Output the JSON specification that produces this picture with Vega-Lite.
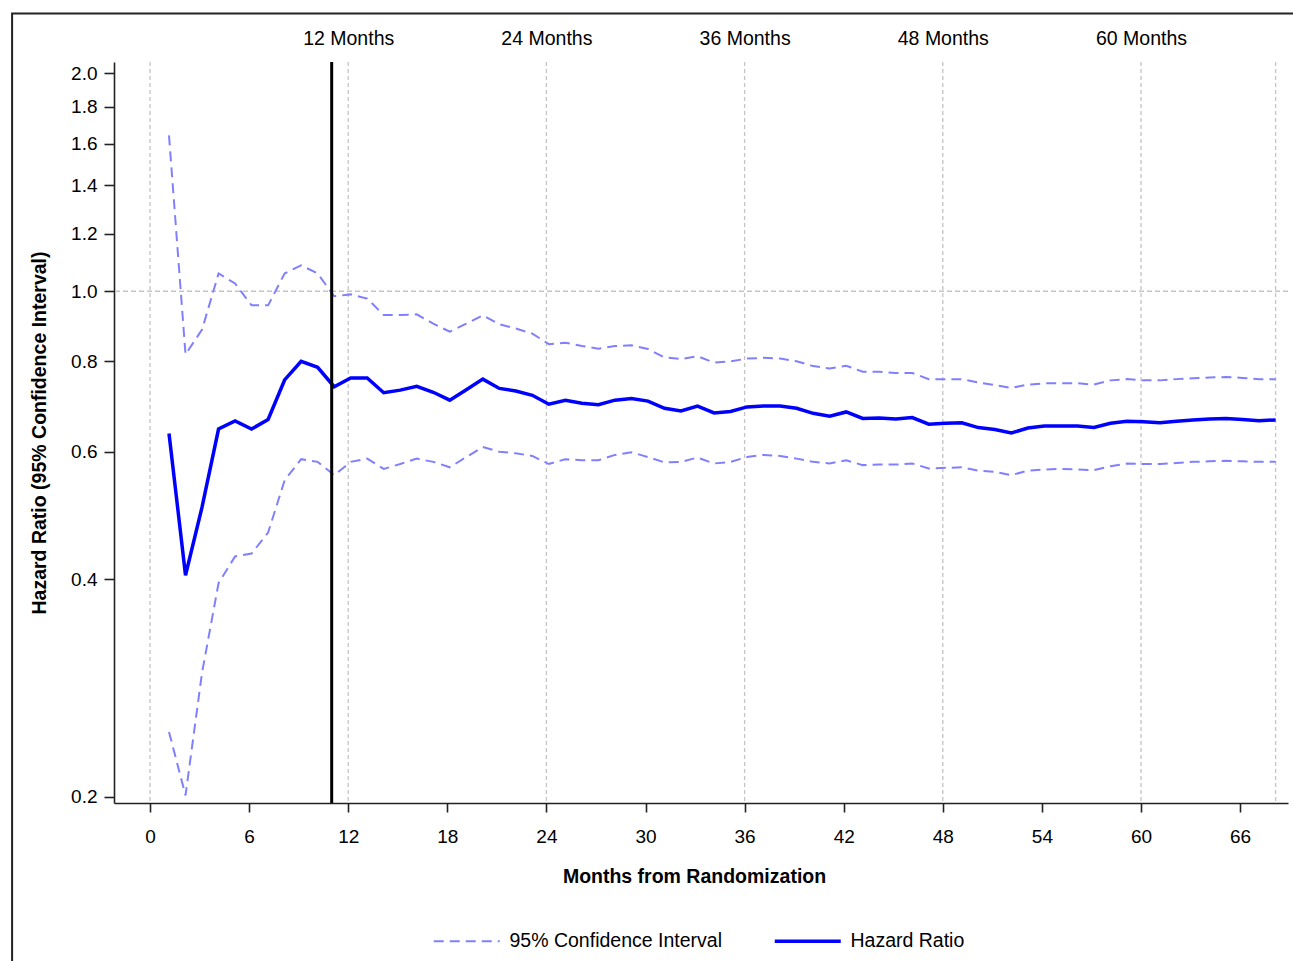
{
  "$schema": "https://vega.github.io/schema/vega-lite/v6.json",
  "width": 1174,
  "height": 741,
  "autosize": {"type": "none"},
  "padding": {"left": 114, "top": 62, "right": 5, "bottom": 158},
  "background": "white",
  "config": {
    "view": {"stroke": null},
    "font": "Liberation Sans",
    "axis": {
      "labelFont": "Liberation Sans",
      "titleFont": "Liberation Sans",
      "labelColor": "#000000",
      "titleColor": "#000000",
      "domainColor": "#222222",
      "tickColor": "#222222",
      "domainWidth": 1.6,
      "tickWidth": 1.6,
      "grid": false
    },
    "legend": {"labelFont": "Liberation Sans"}
  },
  "datasets": {
    "hr": [
      {"m": 1.15, "hr": 0.636, "lo": 0.246, "hi": 1.642},
      {"m": 2.15, "hr": 0.405, "lo": 0.201, "hi": 0.818},
      {"m": 3.15, "hr": 0.503, "lo": 0.297, "hi": 0.885},
      {"m": 4.15, "hr": 0.645, "lo": 0.395, "hi": 1.058},
      {"m": 5.15, "hr": 0.662, "lo": 0.430, "hi": 1.025},
      {"m": 6.15, "hr": 0.645, "lo": 0.434, "hi": 0.956},
      {"m": 7.15, "hr": 0.665, "lo": 0.464, "hi": 0.956},
      {"m": 8.15, "hr": 0.754, "lo": 0.548, "hi": 1.058},
      {"m": 9.15, "hr": 0.800, "lo": 0.586, "hi": 1.086},
      {"m": 10.15, "hr": 0.785, "lo": 0.581, "hi": 1.058},
      {"m": 11.15, "hr": 0.738, "lo": 0.557, "hi": 0.984},
      {"m": 12.15, "hr": 0.759, "lo": 0.581, "hi": 0.990},
      {"m": 13.15, "hr": 0.759, "lo": 0.587, "hi": 0.977},
      {"m": 14.15, "hr": 0.724, "lo": 0.568, "hi": 0.927},
      {"m": 15.15, "hr": 0.730, "lo": 0.577, "hi": 0.927},
      {"m": 16.15, "hr": 0.739, "lo": 0.587, "hi": 0.929},
      {"m": 17.15, "hr": 0.725, "lo": 0.581, "hi": 0.902},
      {"m": 18.15, "hr": 0.707, "lo": 0.571, "hi": 0.879},
      {"m": 19.15, "hr": 0.731, "lo": 0.590, "hi": 0.902},
      {"m": 20.15, "hr": 0.756, "lo": 0.609, "hi": 0.926},
      {"m": 21.15, "hr": 0.734, "lo": 0.600, "hi": 0.900},
      {"m": 22.15, "hr": 0.728, "lo": 0.597, "hi": 0.888},
      {"m": 23.15, "hr": 0.718, "lo": 0.592, "hi": 0.874},
      {"m": 24.15, "hr": 0.698, "lo": 0.577, "hi": 0.845},
      {"m": 25.15, "hr": 0.707, "lo": 0.586, "hi": 0.849},
      {"m": 26.15, "hr": 0.700, "lo": 0.584, "hi": 0.840},
      {"m": 27.15, "hr": 0.697, "lo": 0.584, "hi": 0.833},
      {"m": 28.15, "hr": 0.707, "lo": 0.594, "hi": 0.840},
      {"m": 29.15, "hr": 0.711, "lo": 0.599, "hi": 0.842},
      {"m": 30.15, "hr": 0.705, "lo": 0.590, "hi": 0.832},
      {"m": 31.15, "hr": 0.689, "lo": 0.580, "hi": 0.810},
      {"m": 32.15, "hr": 0.683, "lo": 0.581, "hi": 0.806},
      {"m": 33.15, "hr": 0.694, "lo": 0.589, "hi": 0.813},
      {"m": 34.15, "hr": 0.679, "lo": 0.578, "hi": 0.797},
      {"m": 35.15, "hr": 0.682, "lo": 0.581, "hi": 0.800},
      {"m": 36.15, "hr": 0.692, "lo": 0.590, "hi": 0.807},
      {"m": 37.15, "hr": 0.694, "lo": 0.594, "hi": 0.809},
      {"m": 38.15, "hr": 0.694, "lo": 0.592, "hi": 0.807},
      {"m": 39.15, "hr": 0.689, "lo": 0.587, "hi": 0.800},
      {"m": 40.15, "hr": 0.678, "lo": 0.581, "hi": 0.788},
      {"m": 41.15, "hr": 0.672, "lo": 0.578, "hi": 0.782},
      {"m": 42.15, "hr": 0.681, "lo": 0.584, "hi": 0.789},
      {"m": 43.15, "hr": 0.667, "lo": 0.575, "hi": 0.774},
      {"m": 44.15, "hr": 0.668, "lo": 0.576, "hi": 0.774},
      {"m": 45.15, "hr": 0.666, "lo": 0.576, "hi": 0.771},
      {"m": 46.15, "hr": 0.669, "lo": 0.578, "hi": 0.771},
      {"m": 47.15, "hr": 0.655, "lo": 0.569, "hi": 0.756},
      {"m": 48.15, "hr": 0.657, "lo": 0.570, "hi": 0.756},
      {"m": 49.15, "hr": 0.658, "lo": 0.571, "hi": 0.756},
      {"m": 50.15, "hr": 0.648, "lo": 0.565, "hi": 0.748},
      {"m": 51.15, "hr": 0.644, "lo": 0.563, "hi": 0.742},
      {"m": 52.15, "hr": 0.637, "lo": 0.557, "hi": 0.735},
      {"m": 53.15, "hr": 0.647, "lo": 0.565, "hi": 0.743},
      {"m": 54.15, "hr": 0.651, "lo": 0.567, "hi": 0.746},
      {"m": 55.15, "hr": 0.651, "lo": 0.568, "hi": 0.746},
      {"m": 56.15, "hr": 0.651, "lo": 0.567, "hi": 0.746},
      {"m": 57.15, "hr": 0.648, "lo": 0.566, "hi": 0.743},
      {"m": 58.15, "hr": 0.657, "lo": 0.573, "hi": 0.753},
      {"m": 59.15, "hr": 0.661, "lo": 0.578, "hi": 0.756},
      {"m": 60.15, "hr": 0.660, "lo": 0.577, "hi": 0.753},
      {"m": 61.15, "hr": 0.658, "lo": 0.577, "hi": 0.753},
      {"m": 62.15, "hr": 0.661, "lo": 0.579, "hi": 0.756},
      {"m": 63.15, "hr": 0.664, "lo": 0.581, "hi": 0.758},
      {"m": 64.15, "hr": 0.666, "lo": 0.582, "hi": 0.760},
      {"m": 65.15, "hr": 0.667, "lo": 0.583, "hi": 0.761},
      {"m": 66.15, "hr": 0.665, "lo": 0.582, "hi": 0.759},
      {"m": 67.15, "hr": 0.662, "lo": 0.581, "hi": 0.756},
      {"m": 68.15, "hr": 0.664, "lo": 0.581, "hi": 0.756}
    ],
    "vgrid": [{"m": 0}, {"m": 12}, {"m": 24}, {"m": 36}, {"m": 48}, {"m": 60}, {"m": 68.15}],
    "hgrid": [{"v": 1.0}],
    "ref": [{"m": 11}]
  },
  "layer": [
    {
      "data": {"name": "vgrid"},
      "mark": {"type": "rule", "color": "#c4c4c4", "strokeDash": [4, 3], "strokeWidth": 1.3},
      "encoding": {
        "x": {
          "field": "m", "type": "quantitative",
          "scale": {"domain": [-2.18, 68.9], "nice": false, "zero": false},
          "axis": {
            "orient": "bottom",
            "values": [0, 6, 12, 18, 24, 30, 36, 42, 48, 54, 60, 66],
            "format": "d",
            "labelFontSize": 19,
            "tickSize": 9,
            "labelPadding": 15,
            "title": "Months from Randomization",
            "titleFontSize": 19.5,
            "titleFontWeight": "bold",
            "titlePadding": 21,
            "titleX": 580
          }
        }
      }
    },
    {
      "data": {"name": "hgrid"},
      "mark": {"type": "rule", "color": "#c4c4c4", "strokeDash": [5, 3], "strokeWidth": 1.3},
      "encoding": {
        "y": {
          "field": "v", "type": "quantitative",
          "scale": {"type": "log", "domain": [0.1962, 2.074], "nice": false, "zero": false},
          "axis": {
            "orient": "left",
            "values": [0.2, 0.4, 0.6, 0.8, 1.0, 1.2, 1.4, 1.6, 1.8, 2.0],
            "format": ".1f",
            "labelFontSize": 19,
            "tickSize": 10,
            "labelPadding": 7,
            "title": "Hazard Ratio (95% Confidence Interval)",
            "titleFontSize": 19.5,
            "titleFontWeight": "bold",
            "titlePadding": 21
          }
        }
      }
    },
    {
      "data": {"name": "hr"},
      "mark": {"type": "line", "strokeWidth": 2, "strokeDash": [10, 6]},
      "encoding": {
        "x": {
          "field": "m", "type": "quantitative",
          "scale": {"domain": [-2.18, 68.9], "nice": false, "zero": false},
          "axis": {
            "orient": "top",
            "values": [12, 24, 36, 48, 60],
            "labelExpr": "datum.value + ' Months'",
            "domain": false,
            "ticks": false,
            "tickSize": 0,
            "labelFontSize": 19.5,
            "labelPadding": 14,
            "title": null
          }
        },
        "y": {
          "field": "lo", "type": "quantitative",
          "scale": {"type": "log", "domain": [0.1962, 2.074], "nice": false, "zero": false},
          "axis": null
        },
        "color": {
          "datum": "95% Confidence Interval",
          "type": "nominal",
          "scale": {"domain": ["95% Confidence Interval", "Hazard Ratio"], "range": ["#8080ff", "#0000ff"]},
          "legend": {
            "title": null,
            "orient": "none",
            "legendX": 343,
            "legendY": 869,
            "direction": "horizontal",
            "symbolType": "stroke",
            "symbolSize": 4356,
            "labelFontSize": 19.5,
            "labelColor": "#000000",
            "labelLimit": 0,
            "labelOffset": 33,
            "columnPadding": 45,
            "padding": 0,
            "encode": {
              "symbols": {
                "update": {
                  "strokeDash": {"signal": "datum.value === 'Hazard Ratio' ? [1, 0] : [10, 6]"},
                  "strokeWidth": {"signal": "datum.value === 'Hazard Ratio' ? 3.5 : 2"}
                }
              }
            }
          }
        }
      }
    },
    {
      "data": {"name": "hr"},
      "mark": {"type": "line", "strokeWidth": 2, "strokeDash": [10, 6]},
      "encoding": {
        "x": {
          "field": "m", "type": "quantitative",
          "scale": {"domain": [-2.18, 68.9], "nice": false, "zero": false},
          "axis": null
        },
        "y": {
          "field": "hi", "type": "quantitative",
          "scale": {"type": "log", "domain": [0.1962, 2.074], "nice": false, "zero": false},
          "axis": null
        },
        "color": {
          "datum": "95% Confidence Interval",
          "type": "nominal",
          "scale": {"domain": ["95% Confidence Interval", "Hazard Ratio"], "range": ["#8080ff", "#0000ff"]}
        }
      }
    },
    {
      "data": {"name": "hr"},
      "mark": {"type": "line", "strokeWidth": 3.5},
      "encoding": {
        "x": {
          "field": "m", "type": "quantitative",
          "scale": {"domain": [-2.18, 68.9], "nice": false, "zero": false},
          "axis": null
        },
        "y": {
          "field": "hr", "type": "quantitative",
          "scale": {"type": "log", "domain": [0.1962, 2.074], "nice": false, "zero": false},
          "axis": null
        },
        "color": {
          "datum": "Hazard Ratio",
          "type": "nominal",
          "scale": {"domain": ["95% Confidence Interval", "Hazard Ratio"], "range": ["#8080ff", "#0000ff"]}
        }
      }
    },
    {
      "data": {"name": "ref"},
      "mark": {"type": "rule", "color": "#000000", "strokeWidth": 3},
      "encoding": {
        "x": {
          "field": "m", "type": "quantitative",
          "scale": {"domain": [-2.18, 68.9], "nice": false, "zero": false},
          "axis": null
        }
      }
    },
    {
      "data": {"values": [{}]},
      "mark": {"type": "rect", "fill": null, "stroke": "#222222", "strokeWidth": 2, "clip": false},
      "encoding": {
        "x": {"datum": -8.35, "type": "quantitative", "scale": {"domain": [-2.18, 68.9], "nice": false, "zero": false}, "axis": null},
        "x2": {"datum": 75},
        "y": {"datum": 2.421, "type": "quantitative", "scale": {"type": "log", "domain": [0.1962, 2.074], "nice": false, "zero": false}, "axis": null},
        "y2": {"datum": 0.1}
      }
    }
  ],
  "resolve": {"axis": {"x": "independent", "y": "independent"}}
}
